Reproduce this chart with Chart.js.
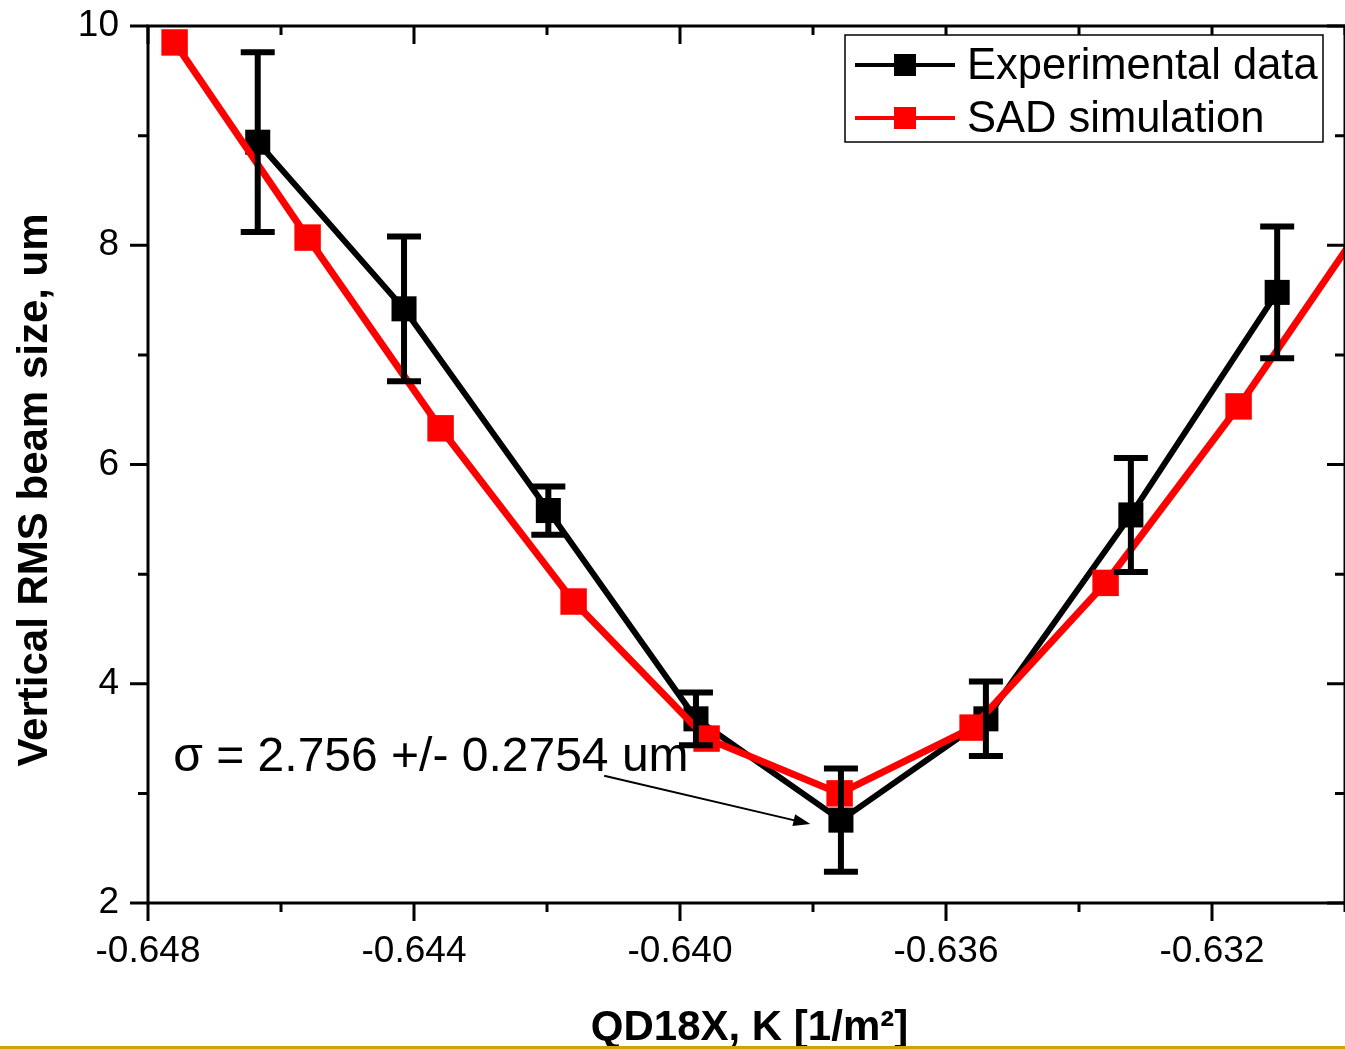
<!DOCTYPE html>
<html>
<head>
<meta charset="utf-8">
<script src="https://cdn.jsdelivr.net/npm/chart.js@4.4.0/dist/chart.umd.min.js"></script>
<style>
  body { margin: 0; background: #fff; }
  #wrap { position: relative; width: 1345px; height: 1049px; overflow: hidden; }
  #rule { position: absolute; left: 0; top: 1046px; width: 1345px; height: 3px; background: #cfa10b; }
</style>
</head>
<body>
<div id="wrap">
  <canvas id="chart" width="1345" height="1049"></canvas>
  <div id="rule"></div>
</div>
<script>
// fitted minimum beam size
var sigma = 2.756
var sigmaErr = 0.2754

// measured vertical beam size vs QD18X strength
var expK = [-0.64635, -0.64415, -0.64198, -0.63976, -0.63758, -0.63540, -0.63322, -0.63102]
var expSize = [8.94, 7.42, 5.58, 3.68, sigma, 3.68, 5.54, 7.57]
var expErr = [0.82, 0.66, 0.22, 0.24, 0.47, 0.34, 0.52, 0.60]

// SAD model
var simK = [-0.6476, -0.6456, -0.6436, -0.6416, -0.6396, -0.6376, -0.6356, -0.6336, -0.6316, -0.6296]
var simSize = [9.85, 8.07, 6.33, 4.75, 3.50, 3.00, 3.60, 4.92, 6.53, 8.30]

var xTicks = [-0.648, -0.644, -0.640, -0.636, -0.632]
var xMinor = [-0.646, -0.642, -0.638, -0.634, -0.630]
var yTicks = [2, 4, 6, 8, 10]
var yMinor = [3, 5, 7, 9]

// note + arrow pointing at the minimum
var notePos = [-0.64762, 3.20]
var arrowFrom = [-0.64114, 3.16]
var arrowTo = [-0.63804, 2.72]

var seriesNames = ["Experimental data", "SAD simulation"]
var seriesColors = ["#000000", "#ff0000"]

var family = "'Liberation Sans', Arial, Helvetica, sans-serif"

function pts(xs, ys) {
  var out = []
  for (var i = 0; i < xs.length; i++) out.push({x: xs[i], y: ys[i]})
  return out
}

var framePlugin = {
  id: "frame",
  afterDatasetsDraw: function(chart) {
    var ctx = chart.ctx
    var xs = chart.scales.x, ys = chart.scales.y
    var a = chart.chartArea
    ctx.save()
    // error bars
    ctx.strokeStyle = "#000"
    ctx.lineWidth = 6
    for (var i = 0; i < expK.length; i++) {
      var px = xs.getPixelForValue(expK[i])
      var t = ys.getPixelForValue(expSize[i] + expErr[i])
      var b = ys.getPixelForValue(expSize[i] - expErr[i])
      ctx.beginPath()
      ctx.moveTo(px, t); ctx.lineTo(px, b)
      ctx.moveTo(px - 17, t); ctx.lineTo(px + 17, t)
      ctx.moveTo(px - 17, b); ctx.lineTo(px + 17, b)
      ctx.stroke()
    }
    // axis box
    ctx.lineWidth = 3
    ctx.strokeRect(a.left, a.top, a.right - a.left, a.bottom - a.top)
    // ticks: outward on bottom/left, inward on top/right
    ctx.beginPath()
    function xt(vals, len) {
      vals.forEach(function(v) {
        var p = xs.getPixelForValue(v)
        ctx.moveTo(p, a.bottom); ctx.lineTo(p, a.bottom + len)
        ctx.moveTo(p, a.top); ctx.lineTo(p, a.top + len)
      })
    }
    function yt(vals, len) {
      vals.forEach(function(v) {
        var p = ys.getPixelForValue(v)
        ctx.moveTo(a.left - len, p); ctx.lineTo(a.left, p)
        ctx.moveTo(a.right - len, p); ctx.lineTo(a.right, p)
      })
    }
    xt(xTicks, 18); xt(xMinor, 9)
    yt(yTicks, 18); yt(yMinor, 10)
    ctx.stroke()
    ctx.restore()
  },
  afterDraw: function(chart) {
    var ctx = chart.ctx
    var xs = chart.scales.x, ys = chart.scales.y
    var a = chart.chartArea
    ctx.save()
    ctx.fillStyle = "#000"

    // axis titles
    ctx.font = "bold 42px " + family
    ctx.textAlign = "center"
    ctx.textBaseline = "alphabetic"
    ctx.fillText("QD18X, K [1/m\u00b2]", (a.left + a.right) / 2 + 3, 1040)
    ctx.save()
    ctx.translate(47, 490)
    ctx.rotate(-Math.PI / 2)
    ctx.fillText("Vertical RMS beam size, um", 0, 0)
    ctx.restore()

    // note and arrow
    ctx.font = "48px " + family
    ctx.textAlign = "left"
    ctx.fillText("\u03c3 = " + sigma.toFixed(3) + " +/- " + sigmaErr + " um",
      xs.getPixelForValue(notePos[0]), ys.getPixelForValue(notePos[1]))
    var x0 = xs.getPixelForValue(arrowFrom[0]), y0 = ys.getPixelForValue(arrowFrom[1])
    var x1 = xs.getPixelForValue(arrowTo[0]), y1 = ys.getPixelForValue(arrowTo[1])
    var ang = Math.atan2(y1 - y0, x1 - x0)
    ctx.strokeStyle = "#000"
    ctx.lineWidth = 2
    ctx.beginPath()
    ctx.moveTo(x0, y0)
    ctx.lineTo(x1 - 14 * Math.cos(ang), y1 - 14 * Math.sin(ang))
    ctx.stroke()
    ctx.beginPath()
    ctx.moveTo(x1, y1)
    ctx.lineTo(x1 - 17 * Math.cos(ang) + 6 * Math.sin(ang), y1 - 17 * Math.sin(ang) - 6 * Math.cos(ang))
    ctx.lineTo(x1 - 17 * Math.cos(ang) - 6 * Math.sin(ang), y1 - 17 * Math.sin(ang) + 6 * Math.cos(ang))
    ctx.closePath()
    ctx.fill()

    // legend box
    ctx.fillStyle = "#fff"
    ctx.fillRect(845, 35, 478, 107)
    ctx.strokeStyle = "#000"
    ctx.lineWidth = 1.5
    ctx.strokeRect(845, 35, 478, 107)
    var rows = [65, 118]
    ctx.font = "43.5px " + family
    ctx.textBaseline = "middle"
    for (var i = 0; i < 2; i++) {
      ctx.strokeStyle = seriesColors[i]
      ctx.fillStyle = seriesColors[i]
      ctx.lineWidth = 4
      ctx.beginPath()
      ctx.moveTo(855, rows[i]); ctx.lineTo(955, rows[i])
      ctx.stroke()
      ctx.fillRect(894, rows[i] - 11, 22, 22)
      ctx.fillStyle = "#000"
      ctx.fillText(seriesNames[i], 967, rows[i] + 2)
    }
    ctx.restore()
  }
}

var tickFont = {family: family, size: 37}

var ctx = document.getElementById("chart").getContext("2d")
var chart = new Chart(ctx, {
  type: "line",
  data: {
    datasets: [
      {
        label: seriesNames[0],
        data: pts(expK, expSize),
        borderColor: seriesColors[0],
        backgroundColor: seriesColors[0],
        borderWidth: 6,
        pointStyle: "rect",
        pointRadius: 17.7,
        pointBorderWidth: 0,
        pointBackgroundColor: seriesColors[0],
        order: 1
      },
      {
        label: seriesNames[1],
        data: pts(simK, simSize),
        borderColor: seriesColors[1],
        backgroundColor: seriesColors[1],
        borderWidth: 7,
        pointStyle: "rect",
        pointRadius: 18.7,
        pointBorderWidth: 0,
        pointBackgroundColor: seriesColors[1],
        order: 0
      }
    ]
  },
  options: {
    responsive: false,
    animation: false,
    layout: {autoPadding: false, padding: {top: 26, right: 0, left: 0, bottom: 0}},
    plugins: {legend: {display: false}, tooltip: {enabled: false}},
    scales: {
      x: {
        type: "linear",
        min: -0.648,
        max: -0.630,
        afterBuildTicks: function(s) { s.ticks = xTicks.map(function(v) { return {value: v} }) },
        afterFit: function(s) { s.height = 146; s.paddingLeft = 0; s.paddingRight = 0 },
        grid: {display: false, drawTicks: false},
        border: {display: false},
        ticks: {padding: 27, color: "#000", font: tickFont, maxRotation: 0,
          callback: function(v) { return v.toFixed(3) }}
      },
      y: {
        min: 2,
        max: 10,
        afterBuildTicks: function(s) { s.ticks = yTicks.map(function(v) { return {value: v} }) },
        afterFit: function(s) { s.width = 148; s.paddingTop = 0; s.paddingBottom = 0 },
        grid: {display: false, drawTicks: false},
        border: {display: false},
        ticks: {padding: 29, color: "#000", font: tickFont,
          callback: function(v) { return String(v) }}
      }
    }
  },
  plugins: [framePlugin]
})
</script>
</body>
</html>
